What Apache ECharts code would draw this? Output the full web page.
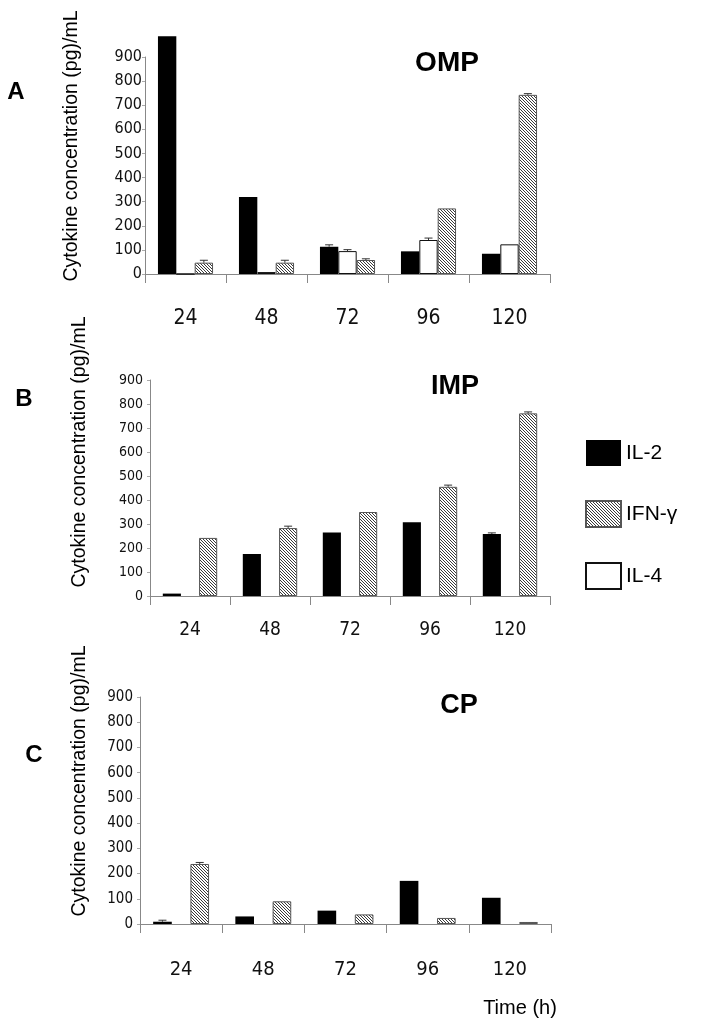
<!DOCTYPE html>
<html>
<head>
<meta charset="utf-8">
<script src="https://cdn.jsdelivr.net/npm/echarts@6/dist/echarts.min.js"></script>
<style>
  html, body { margin: 0; padding: 0; background: #fff; }
  #chart { width: 704px; height: 1021px; }
</style>
</head>
<body>
<div id="chart"></div>
<script>
// time points (h)
var timeLabels = ['24', '48', '72', '96', '120'];
var yTicks = [0, 100, 200, 300, 400, 500, 600, 700, 800, 900];

// A - OMP
var il2A = [986, 319, 113, 94, 84];
var il4A = [0, 8, 95, 141, 123];
var ifnA = [47, 47, 58, 272, 743];
var il2ErrA = [0, 0, 8, 0, 0];
var il4ErrA = [0, 0, 6, 8, 0];
var ifnErrA = [10, 10, 5, 0, 5];

// B - IMP
var il2B = [10, 175, 265, 307, 258];
var il4B = [null, null, null, null, null];
var ifnB = [242, 283, 350, 455, 761];
var il2ErrB = [0, 0, 0, 0, 5];
var ifnErrB = [0, 8, 0, 7, 6];

// C - CP
var il2C = [9, 30, 53, 171, 104];
var il4C = [null, null, null, null, null];
var ifnC = [238, 90, 38, 24, 8];
var il2ErrC = [6, 0, 0, 0, 0];
var ifnErrC = [6, 0, 0, 0, 0];

// hatched fill for IFN-γ
var hatch = document.createElement('canvas');
hatch.width = 3; hatch.height = 3;
var hctx = hatch.getContext('2d');
hctx.fillStyle = '#fff';
hctx.fillRect(0, 0, 3, 3);
hctx.fillStyle = '#3a3a3a';
for (var i = 0; i < 3; i++) hctx.fillRect(i, i, 1, 1);

var narrow = "'Liberation Sans Narrow', 'DejaVu Sans Condensed', 'Liberation Sans', sans-serif";
var sans = "'Liberation Sans', Arial, sans-serif";
var GAP = 0.32;

var grids = [
  { left: 145, top: 57, width: 405, height: 217 },
  { left: 150, top: 380, width: 400, height: 216 },
  { left: 140, top: 697, width: 411, height: 227 }
];
var yLabelSize = [16, 14, 15];
var yLabelMargin = [3, 7, 7];
var xLabelSize = [21, 19, 20];
var xLabelMargin = [34, 25, 36];

var xAxes = [], yAxes = [], series = [];

function errItem(params, api) {
  var ci = api.value(0), v = api.value(1), e = api.value(2), k = api.value(3);
  if (!e) return;
  var band = api.size([1, 0])[0];
  var bw = band * (1 - GAP) / 3;
  var top = api.coord([ci, v + e]);
  var base = api.coord([ci, v]);
  var x = top[0] + (k - 1) * bw;
  var st = { stroke: '#333', lineWidth: 1 };
  return {
    type: 'group',
    children: [
      { type: 'line', shape: { x1: x, y1: base[1], x2: x, y2: top[1] }, style: st },
      { type: 'line', shape: { x1: x - 4, y1: top[1], x2: x + 4, y2: top[1] }, style: st }
    ]
  };
}

function addPanel(g, il2, il4, ifn, errs) {
  xAxes.push({
    type: 'category', gridIndex: g, data: timeLabels,
    axisLine: { lineStyle: { color: '#888', width: 1 } },
    axisTick: { show: true, length: 9, lineStyle: { color: '#888' } },
    axisLabel: { fontFamily: narrow, fontSize: xLabelSize[g], color: '#111', margin: xLabelMargin[g] },
    splitLine: { show: false }
  });
  yAxes.push({
    type: 'value', gridIndex: g, min: yTicks[0], max: yTicks[yTicks.length - 1], interval: 100,
    axisLine: { show: true, lineStyle: { color: '#888', width: 1 } },
    axisTick: { show: true, length: 3, lineStyle: { color: '#aaa' } },
    axisLabel: { fontFamily: narrow, fontSize: yLabelSize[g], color: '#111', margin: yLabelMargin[g] },
    splitLine: { show: false }
  });
  series.push({
    name: 'IL-2', type: 'bar', xAxisIndex: g, yAxisIndex: g, data: il2,
    barGap: '0%', barCategoryGap: (GAP * 100) + '%', clip: false,
    itemStyle: { color: '#000' }
  });
  series.push({
    name: 'IL-4', type: 'bar', xAxisIndex: g, yAxisIndex: g, data: il4,
    barGap: '0%', barCategoryGap: (GAP * 100) + '%', clip: false,
    itemStyle: { color: '#fff', borderColor: '#111', borderWidth: 1 }
  });
  series.push({
    name: 'IFN-γ', type: 'bar', xAxisIndex: g, yAxisIndex: g, data: ifn,
    barGap: '0%', barCategoryGap: (GAP * 100) + '%', clip: false,
    itemStyle: { color: { image: hatch, repeat: 'repeat' }, borderColor: '#555', borderWidth: 1 }
  });
  var ed = [];
  [il2, il4, ifn].forEach(function (arr, k) {
    var err = errs[k];
    if (!err) return;
    arr.forEach(function (v, ci) {
      if (v != null && err[ci]) ed.push([ci, v, err[ci], k]);
    });
  });
  series.push({
    name: 'err' + g, type: 'custom', xAxisIndex: g, yAxisIndex: g,
    renderItem: errItem, data: ed, clip: false, silent: true, z: 5
  });
}

addPanel(0, il2A, il4A, ifnA, [il2ErrA, il4ErrA, ifnErrA]);
addPanel(1, il2B, il4B, ifnB, [il2ErrB, null, ifnErrB]);
addPanel(2, il2C, il4C, ifnC, [il2ErrC, null, ifnErrC]);

function txt(x, y, s, size, bold, rot) {
  return {
    type: 'text', x: x, y: y, rotation: rot || 0,
    style: {
      text: s, fontSize: size, fontFamily: sans, fontWeight: bold ? 'bold' : 'normal',
      fill: '#000', align: 'center', verticalAlign: 'middle'
    }
  };
}

var yTitle = 'Cytokine concentration (pg)/mL';

var chart = echarts.init(document.getElementById('chart'), null, { renderer: 'canvas' });
chart.setOption({
  animation: false,
  backgroundColor: '#fff',
  grid: grids,
  xAxis: xAxes,
  yAxis: yAxes,
  legend: {
    data: ['IL-2', 'IFN-γ', 'IL-4'],
    orient: 'vertical', left: 580, top: 435,
    itemWidth: 35, itemHeight: 26, itemGap: 34,
    icon: 'rect',
    textStyle: { fontFamily: sans, fontSize: 21, color: '#000', padding: [0, 0, 0, 0] },
    selectedMode: false
  },
  graphic: [
    txt(16, 92, 'A', 24, true),
    txt(24, 399, 'B', 24, true),
    txt(34, 755, 'C', 24, true),
    txt(447, 63, 'OMP', 28, true),
    txt(455, 387, 'IMP', 27, true),
    txt(459, 706, 'CP', 27, true),
    txt(72, 146, yTitle, 19.5, false, Math.PI / 2),
    txt(80, 452, yTitle, 19.5, false, Math.PI / 2),
    txt(80, 781, yTitle, 19.5, false, Math.PI / 2),
    txt(520, 1008, 'Time (h)', 20, false)
  ],
  series: series
});
</script>
</body>
</html>
